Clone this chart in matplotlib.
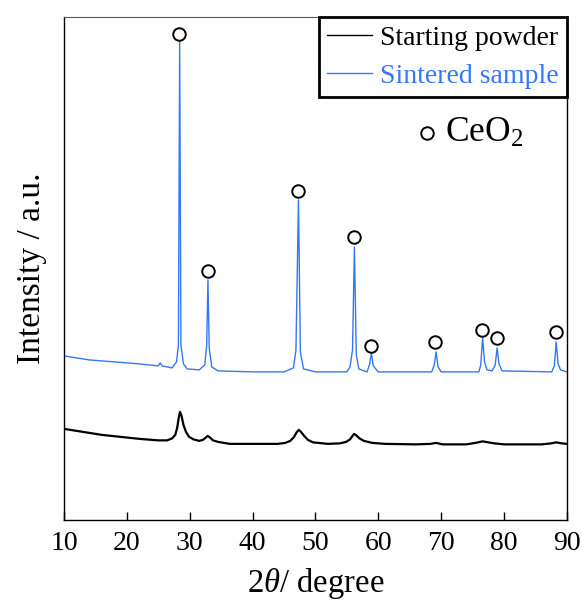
import matplotlib
matplotlib.use("Agg")
import matplotlib.pyplot as plt

plt.rcParams["font.family"] = ["Liberation Serif", "DejaVu Serif"]
plt.rcParams["mathtext.fontset"] = "custom"
plt.rcParams["mathtext.rm"] = "Liberation Serif"
plt.rcParams["mathtext.it"] = "Liberation Serif:italic"

# Starting powder (2theta, intensity in a.u.)
powder_x = [10, 13, 16, 19, 22, 25, 26.4, 27.2, 27.7, 28.0, 28.25, 28.45, 28.7, 29.0,
            29.4, 29.9, 30.6, 31.5, 32.1, 32.5, 32.85, 33.2, 33.7, 34.5, 36.4, 40, 44,
            45.2, 46.0, 46.6, 47.0, 47.35, 47.7, 48.2, 48.8, 49.6, 52, 53.9, 54.9, 55.5,
            55.9, 56.15, 56.5, 57.0, 57.7, 59.0, 61.0, 66, 68.3, 69.2, 70.2, 74, 75.5,
            76.6, 77.5, 78.5, 80, 86, 87.5, 88.3, 89.2, 90]
powder_y = [91, 88, 85, 83, 81, 79.5, 79.5, 81.5, 85, 92, 102, 108, 104, 95,
            88, 83, 80.5, 79, 80, 82, 84, 82.5, 79.5, 78, 76, 76, 76,
            77, 79, 83, 87.5, 90, 88, 84, 80, 77.5, 76, 76.5, 78, 80.5,
            84, 86, 84.5, 81.5, 79, 77, 76, 75.5, 76, 77, 75.5, 75.5, 77,
            78.5, 77.5, 76.5, 75.5, 75.5, 76.5, 77.5, 76.5, 76]

# Sintered sample
sint_x = [10, 14, 18, 22, 25.0, 25.3, 25.6, 27.2, 27.9, 28.2, 28.4, 28.6, 29.0, 29.6,
          31.5, 32.4, 32.7, 32.9, 33.1, 33.5, 34.5, 40, 45, 46.5, 46.9, 47.3, 47.6,
          48.1, 50, 55, 55.5, 55.9, 56.2, 56.5, 56.9, 58.2, 58.6, 58.9, 59.2, 60,
          68.5, 68.9, 69.2, 69.5, 70.0, 76, 76.3, 76.6, 76.9, 77.3, 78.1, 78.6, 78.9,
          79.2, 79.7, 87.6, 88.0, 88.3, 88.6, 89.0, 90]
sint_y = [164, 160, 158, 156, 154, 157, 154, 152, 158, 175, 478, 175, 156, 151,
          150, 155, 175, 240, 172, 153, 149, 148, 148, 152, 170, 320, 168,
          151, 148, 148, 153, 170, 273, 165, 151, 148, 155, 167, 154, 148,
          148, 155, 168, 153, 148, 148, 155, 182, 158, 150, 149, 155, 172,
          156, 149, 148, 154, 178, 156, 150, 148]

# CeO2 reflections marked with circles
ceo2_x = [28.3, 32.9, 47.2, 56.1, 58.8, 69.0, 76.5, 78.9, 88.2]
ceo2_y = [486, 249, 329, 283, 174, 178, 190, 182, 188]

fig = plt.figure(figsize=(5.82, 6.08), dpi=100)
ax = fig.add_axes([0.110, 0.145, 0.864, 0.827])

ax.plot(powder_x, powder_y, color="black", lw=1.6, label="Starting powder")
ax.plot(sint_x, sint_y, color="#3478f6", lw=1.0, label="Sintered sample")
ax.plot(ceo2_x, ceo2_y, ls="none", marker="o", ms=9, mfc="white", mec="black", mew=1.4)

# CeO2 key
ax.plot([0.722], [0.769], transform=ax.transAxes, marker="o", ms=9, mfc="white",
        mec="black", mew=1.4, ls="none", clip_on=False)
ax.text(0.758, 0.769, r"CeO$_2$", transform=ax.transAxes, fontsize=25.5, va="center", ha="left")

ax.set_xlim(10, 90)
ax.set_ylim(0, 503)
ax.set_xticks(range(10, 91, 10))
ax.set_yticks([])
ax.tick_params(axis="x", direction="in", length=6, width=1, labelsize=20, pad=8)
ax.set_xlabel(r"2$\theta$/ degree", fontsize=23.5, labelpad=7)
ax.set_ylabel("Intensity / a.u.", fontsize=24, labelpad=12)

for s in ["left", "right", "bottom"]:
    ax.spines[s].set_color("black")
    ax.spines[s].set_linewidth(1.0)
ax.spines["top"].set_color("#555555")
ax.spines["top"].set_linewidth(0.8)

leg = ax.legend(loc="upper right", bbox_to_anchor=(1.0, 1.0), borderaxespad=0,
                fontsize=20, handlelength=1.6, handletextpad=0.3, borderpad=0.3,
                labelspacing=0.45, labelcolor="linecolor",
                fancybox=False, framealpha=1, edgecolor="black")
leg.get_frame().set_linewidth(2.0)
for h in leg.get_lines():
    h.set_linewidth(1.0)

fig.savefig("out.png", dpi=100)
